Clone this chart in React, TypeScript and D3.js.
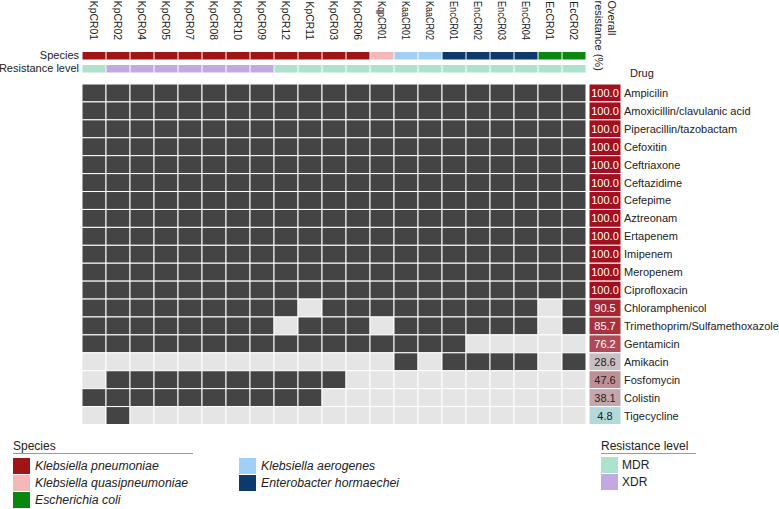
import React from "react";
import * as d3 from "d3";

const samples = ["KpCR01","KpCR02","KpCR04","KpCR05","KpCR07","KpCR08","KpCR10","KpCR09","KpCR12","KpCR11","KpCR03","KpCR06","KqpCR01","KaaCR01","KaaCR02","EncCR01","EncCR02","EncCR03","EncCR04","EcCR01","EcCR02"];
const sampleSpecies = ["Kp","Kp","Kp","Kp","Kp","Kp","Kp","Kp","Kp","Kp","Kp","Kp","Kqp","Kaa","Kaa","Enc","Enc","Enc","Enc","Ec","Ec"];
const sampleLevel = ["MDR","XDR","XDR","XDR","XDR","XDR","XDR","XDR","MDR","MDR","MDR","MDR","MDR","MDR","MDR","MDR","MDR","MDR","MDR","MDR","MDR"];
const drugs = ["Ampicilin","Amoxicillin/clavulanic acid","Piperacillin/tazobactam","Cefoxitin","Ceftriaxone","Ceftazidime","Cefepime","Aztreonam","Ertapenem","Imipenem","Meropenem","Ciprofloxacin","Chloramphenicol","Trimethoprim/Sulfamethoxazole","Gentamicin","Amikacin","Fosfomycin","Colistin","Tigecycline"];
const overallResistance = [100,100,100,100,100,100,100,100,100,100,100,100,90.5,85.7,76.2,28.6,47.6,38.1,4.8];
// 1 = resistant, 0 = susceptible; one string per drug, one char per sample
const resistanceMatrix = [
  "111111111111111111111",
  "111111111111111111111",
  "111111111111111111111",
  "111111111111111111111",
  "111111111111111111111",
  "111111111111111111111",
  "111111111111111111111",
  "111111111111111111111",
  "111111111111111111111",
  "111111111111111111111",
  "111111111111111111111",
  "111111111111111111111",
  "111111111011111111101",
  "111111110111011111101",
  "111111111111111100000",
  "000000000000010111101",
  "011111111110000000000",
  "111111111100000000000",
  "010000000000000000000",
];
const speciesKeys = ["Kp","Kqp","Ec","Kaa","Enc"];
const speciesNames = ["Klebsiella pneumoniae","Klebsiella quasipneumoniae","Escherichia coli","Klebsiella aerogenes","Enterobacter hormaechei"];
const speciesColors = ["#a01416","#f4b8b8","#0a870e","#a2cff5","#0c3a6d"];
const levelKeys = ["MDR","XDR"];
const levelColors = ["#abe3cd","#c3a9e1"];

const FONT = "'Liberation Sans', Arial, sans-serif";

export default function App() {
  const x = d3.scaleBand<string>().domain(samples).range([82, 586]).paddingInner(0);
  const y = d3.scaleBand<string>().domain(drugs).range([84, 424.5]);
  const speciesColor = d3.scaleOrdinal<string, string>().domain(speciesKeys).range(speciesColors);
  const levelColor = d3.scaleOrdinal<string, string>().domain(levelKeys).range(levelColors);
  const pctColor = d3.scaleLinear<string>().domain([0, 28.6, 100]).range(["#b0dfe0", "#c9bec2", "#a0101e"]).interpolate(d3.interpolateRgb);
  const bw = x.bandwidth();
  const bh = y.bandwidth();
  const pctX0 = 589, pctW = 32;

  return (
    <svg width={779} height={509} style={{ position: "absolute", left: 0, top: 0, fontFamily: FONT }}>
      {/* column labels */}
      {samples.map((s) => (
        <text key={s} transform={`translate(${x(s)! + bw / 2 - 1},40) rotate(90)`} textAnchor="end" dominantBaseline="central" fontSize={10.4} fill="#222"
          {...(s.length > 6 ? { textLength: 39, lengthAdjust: "spacingAndGlyphs" } : {})}>{s}</text>
      ))}
      <text transform={`translate(612,0.5) rotate(90)`} textAnchor="start" dominantBaseline="central" fontSize={11} fill="#222">Overall</text>
      <text transform={`translate(599,0.5) rotate(90)`} textAnchor="start" dominantBaseline="central" fontSize={11} fill="#222">resistance (%)</text>
      <text x={630} y={77} fontSize={11} fill="#222">Drug</text>

      {/* annotation bars */}
      <text x={79} y={59} textAnchor="end" fontSize={11} fill="#222">Species</text>
      <text x={79} y={72} textAnchor="end" fontSize={11} fill="#222">Resistance level</text>
      {samples.map((s, i) => (
        <g key={s}>
          <rect x={x(s)! + 0.5} y={52} width={bw - 1} height={7.5} fill={speciesColor(sampleSpecies[i])} />
          <rect x={x(s)! + 0.5} y={65} width={bw - 1} height={7.5} fill={levelColor(sampleLevel[i])} />
        </g>
      ))}

      {/* heatmap */}
      {drugs.map((d, r) => (
        <g key={d}>
          {samples.map((s, c) => (
            <rect key={s} x={x(s)!} y={y(d)!} width={bw} height={bh}
              fill={resistanceMatrix[r][c] === "1" ? "#444444" : "#e5e5e5"} stroke="#ffffff" strokeWidth={1} />
          ))}
          <rect x={pctX0} y={y(d)!} width={pctW} height={bh} fill={pctColor(overallResistance[r])} stroke="#ffffff" strokeWidth={1} />
          <text x={pctX0 + pctW / 2} y={y(d)! + bh / 2} textAnchor="middle" dominantBaseline="central" fontSize={11}
            fill={overallResistance[r] > 60 ? "#ffffff" : "#222"}>{overallResistance[r].toFixed(1)}</text>
          <text x={624} y={y(d)! + bh / 2} dominantBaseline="central" fontSize={11} fill="#222">{d}</text>
        </g>
      ))}

      {/* species legend */}
      <text x={13} y={450} fontSize={12} fill="#222">Species</text>
      <line x1={13} x2={193} y1={453.5} y2={453.5} stroke="#999" strokeWidth={1} />
      {speciesKeys.map((k, i) => {
        const col = i < 3 ? 0 : 1;
        const row = i < 3 ? i : i - 3;
        const lx = col === 0 ? 13 : 239;
        const ly = 458 + row * 17;
        return (
          <g key={k}>
            <rect x={lx} y={ly} width={17} height={16} fill={speciesColor(k)} />
            <text x={lx + 22} y={ly + 8} dominantBaseline="central" fontSize={12.3} fontStyle="italic" fill="#222">{speciesNames[i]}</text>
          </g>
        );
      })}

      {/* resistance legend */}
      <text x={601} y={450} fontSize={12} fill="#222">Resistance level</text>
      <line x1={601} x2={696} y1={453.5} y2={453.5} stroke="#999" strokeWidth={1} />
      {levelKeys.map((k, i) => (
        <g key={k}>
          <rect x={601} y={457 + i * 17} width={17} height={16} fill={levelColor(k)} />
          <text x={622} y={457 + i * 17 + 8} dominantBaseline="central" fontSize={12} fill="#222">{k}</text>
        </g>
      ))}
    </svg>
  );
}
